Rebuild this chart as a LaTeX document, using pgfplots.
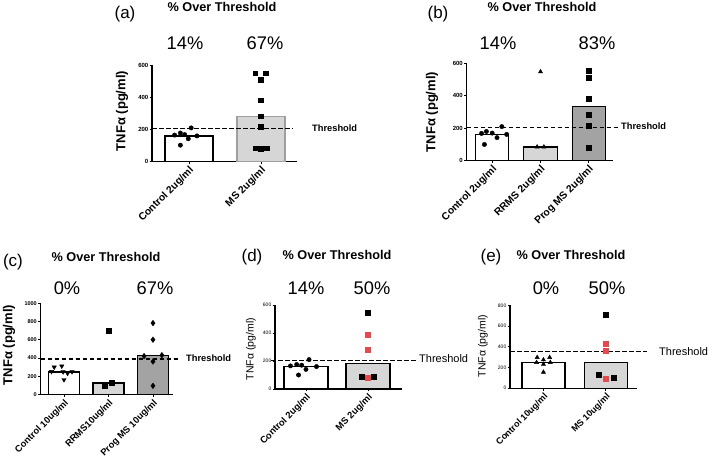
\documentclass[border=0pt]{standalone}
\usepackage{fontspec}
\setmainfont{Liberation Sans}
\usepackage{pgfplots}
\pgfplotsset{compat=1.18}
\definecolor{lg}{HTML}{D6D6D6}
\definecolor{dg}{HTML}{A3A3A3}
\definecolor{rd}{HTML}{E5484D}
\newcommand{\fs}[1]{\fontsize{#1}{#1}\selectfont}
\pgfplotsset{
  panel/.style={
    scale only axis, clip=false, anchor=south west,
    axis x line=bottom, axis y line=left,
    axis line style={-, line width=1.1pt},
    ymin=0,
    tick align=outside, major tick length=2.5pt,
    tick style={line width=0.8pt, black},
    /pgf/number format/assume math mode=true,
    /pgf/number format/1000 sep={},
    yticklabel style={inner sep=1pt},
    xticklabel style={rotate=45, anchor=east, inner sep=0.5pt, yshift=-5.5pt, xshift=-0.5pt},
  },
  mybar/.style={ybar, bar shift=0pt, draw=black, line width=1.3pt},
  thr/.style={black, line width=1.2pt, dash pattern=on 4.5pt off 2.5pt},
}
\begin{document}
\begin{tikzpicture}[x=1pt,y=1pt]
\useasboundingbox (0,0) rectangle (709,462);
% ---------- (a)
\begin{axis}[panel, at={(152pt,300.5pt)}, width=145pt, height=96pt,
  xmin=0.486, xmax=2.5, ymax=600, ytick={0,200,400,600}, xtick={1,2},
  xticklabels={Control 2ug/ml, MS 2ug/ml},
  yticklabel style={font=\fs{6}\bfseries}, xticklabel style={font=\fs{10.3}\bfseries}]
\addplot[mybar, bar width=0.667, fill=white] coordinates {(1,160)};
\addplot[mybar, bar width=0.667, fill=lg, draw=gray!75] coordinates {(2,283)};
\addplot[thr] coordinates {(0.486,207) (2.44,207)};
\addplot[only marks, mark=*, mark size=2.2pt, black] coordinates {(1.03,210) (0.88,178) (0.94,168) (0.80,165) (1.11,160) (0.99,142) (0.88,102)};
\addplot[only marks, mark=square*, mark size=2.4pt, black] coordinates {(1.92,552) (2.06,552) (2.0,512) (2.0,383) (2.0,283) (2.0,215) (1.92,83) (2.0,80) (2.08,83)};
\end{axis}
% ---------- (b)
\begin{axis}[panel, at={(466.5pt,301.3pt)}, width=146.5pt, height=97.4pt,
  xmin=0.469, xmax=3.5, ymax=600, ytick={0,200,400,600}, xtick={1,2,3},
  xticklabels={Control 2ug/ml, RRMS 2ug/ml, Prog MS 2ug/ml},
  yticklabel style={font=\fs{6}\bfseries}, xticklabel style={font=\fs{10.3}\bfseries}]
\addplot[mybar, bar width=0.69, fill=white] coordinates {(1,160)};
\addplot[mybar, bar width=0.69, fill=lg] coordinates {(2,85)};
\addplot[mybar, bar width=0.69, fill=dg] coordinates {(3,335)};
\addplot[thr] coordinates {(0.469,206) (3.6,206)};
\addplot[only marks, mark=*, mark size=2.2pt, black] coordinates {(1.2,210) (0.88,180) (0.78,168) (1.0,170) (1.1,142) (1.3,162) (0.84,100)};
\addplot[only marks, mark=triangle*, mark size=2.4pt, black] coordinates {(2.0,548) (1.93,85) (2.07,85)};
\addplot[only marks, mark=square*, mark size=2.4pt, black] coordinates {(3,552) (3,512) (3,383) (3,283) (3,215) (3,78)};
\end{axis}
% ---------- (c)
\begin{axis}[panel, at={(40.5pt,67.5pt)}, width=132.5pt, height=91pt,
  xmin=0.472, xmax=3.45, ymax=1000, ytick={0,200,400,600,800,1000}, xtick={1,2,3},
  xticklabels={Control 10ug/ml, RRMS10ug/ml, Prog MS 10ug/ml},
  yticklabel style={font=\fs{5.5}\bfseries}, xticklabel style={font=\fs{9.3}\bfseries}]
\addplot[mybar, bar width=0.70, fill=white] coordinates {(1,247)};
\addplot[mybar, bar width=0.70, fill=lg] coordinates {(2,125)};
\addplot[mybar, bar width=0.70, fill=dg] coordinates {(3,425)};
\addplot[thr] coordinates {(0.472,390) (3.56,390)};
\addplot[only marks, mark=triangle*, mark size=2.5pt, mark options={rotate=180}, black] coordinates {(0.78,300) (0.95,312) (0.72,252) (0.98,248) (1.18,250) (1.08,232) (1.0,162)};
\addplot[only marks, mark=square*, mark size=2.5pt, black] coordinates {(2.0,705) (1.92,98) (2.08,130)};
\addplot[only marks, mark=diamond*, mark size=2.8pt, black] coordinates {(3,785) (3,602) (2.8,422) (3.2,432) (3,362) (3,95)};
\end{axis}
% ---------- (d)
\begin{axis}[panel, at={(275pt,73pt)}, width=127pt, height=84pt,
  xmin=0.5, xmax=2.55, ymax=600, ytick={0,200,400,600}, xtick={1,2},
  xticklabels={Control 2ug/ml, MS 2ug/ml},
  yticklabel style={font=\fs{5}}, xticklabel style={font=\fs{9.4}\bfseries}]
\addplot[mybar, bar width=0.71, fill=white] coordinates {(1,160)};
\addplot[mybar, bar width=0.71, fill=lg] coordinates {(2,183)};
\addplot[thr] coordinates {(0.44,205) (2.81,205)};
\addplot[only marks, mark=*, mark size=2.2pt, black] coordinates {(1.05,210) (0.85,175) (0.93,170) (0.75,165) (1.17,160) (1.0,140) (0.88,100)};
\addplot[only marks, mark=square*, mark size=2.5pt, black] coordinates {(2,548) (1.9,85) (2.1,85)};
\addplot[only marks, mark=square*, mark size=2.5pt, rd] coordinates {(2,385) (2,283) (2,78)};
\end{axis}
% ---------- (e)
\begin{axis}[panel, at={(510pt,73.8pt)}, width=127pt, height=82.7pt,
  xmin=0.464, xmax=2.5, ymax=800, ytick={0,200,400,600,800}, xtick={1,2},
  xticklabels={Control 10ug/ml, MS 10ug/ml},
  yticklabel style={font=\fs{5}}, xticklabel style={font=\fs{9}\bfseries}]
\addplot[mybar, bar width=0.69, fill=white] coordinates {(1,249)};
\addplot[mybar, bar width=0.69, fill=lg] coordinates {(2,249)};
\addplot[thr] coordinates {(0.464,358) (2.66,358)};
\addplot[only marks, mark=triangle*, mark size=2.4pt, black] coordinates {(0.9,298) (1.1,298) (1.0,275) (0.89,249) (1.11,249) (1.0,232) (1.0,155)};
\addplot[only marks, mark=square*, mark size=2.5pt, black] coordinates {(2,708) (1.88,126) (2.12,97)};
\addplot[only marks, mark=square*, mark size=2.5pt, rd] coordinates {(2,435) (2,366) (2.0,94)};
\end{axis}
% ---------- texts
% (a)
\node[font=\fs{17}] at (125,448) {(a)};
\node[font=\fs{12.7}\bfseries] at (222,455) {\% Over Threshold};
\node[font=\fs{18.3}] at (185,419) {14\%};
\node[font=\fs{18.3}] at (265,419) {67\%};
\node[font=\fs{9.3}\bfseries, anchor=west, inner sep=0] at (312,334) {Threshold};
\node[font=\fs{13}\bfseries, rotate=90] at (122,351) {TNFα (pg/ml)};
% (b)
\node[font=\fs{17}] at (438,448) {(b)};
\node[font=\fs{12.7}\bfseries] at (542,455) {\% Over Threshold};
\node[font=\fs{18.3}] at (498,419) {14\%};
\node[font=\fs{18.3}] at (597,419) {83\%};
\node[font=\fs{9.3}\bfseries, anchor=west, inner sep=0] at (621,336) {Threshold};
\node[font=\fs{13}\bfseries, rotate=90] at (432,350) {TNFα (pg/ml)};
% (c)
\node[font=\fs{17}] at (13,200) {(c)};
\node[font=\fs{12.7}\bfseries] at (106,205) {\% Over Threshold};
\node[font=\fs{18.3}] at (67,174) {0\%};
\node[font=\fs{18.3}] at (155,174) {67\%};
\node[font=\fs{9.3}\bfseries, anchor=west, inner sep=0] at (186,104) {Threshold};
\node[font=\fs{13}\bfseries, rotate=90] at (9,117) {TNFα (pg/ml)};
% (d)
\node[font=\fs{17}] at (252,205) {(d)};
\node[font=\fs{12.7}\bfseries] at (337,207) {\% Over Threshold};
\node[font=\fs{18.3}] at (306,174) {14\%};
\node[font=\fs{18.3}] at (372,174) {50\%};
\node[font=\fs{11}, anchor=west, inner sep=0] at (419,103) {Threshold};
\node[font=\fs{10.5}, rotate=90] at (251,113) {TNFα (pg/ml)};
% (e)
\node[font=\fs{17}] at (491,205) {(e)};
\node[font=\fs{12.7}\bfseries] at (571,207) {\% Over Threshold};
\node[font=\fs{18.3}] at (546,174) {0\%};
\node[font=\fs{18.3}] at (607,174) {50\%};
\node[font=\fs{11}, anchor=west, inner sep=0] at (659,110) {Threshold};
\node[font=\fs{10.5}, rotate=90] at (483,116) {TNFα (pg/ml)};
\end{tikzpicture}
\end{document}
